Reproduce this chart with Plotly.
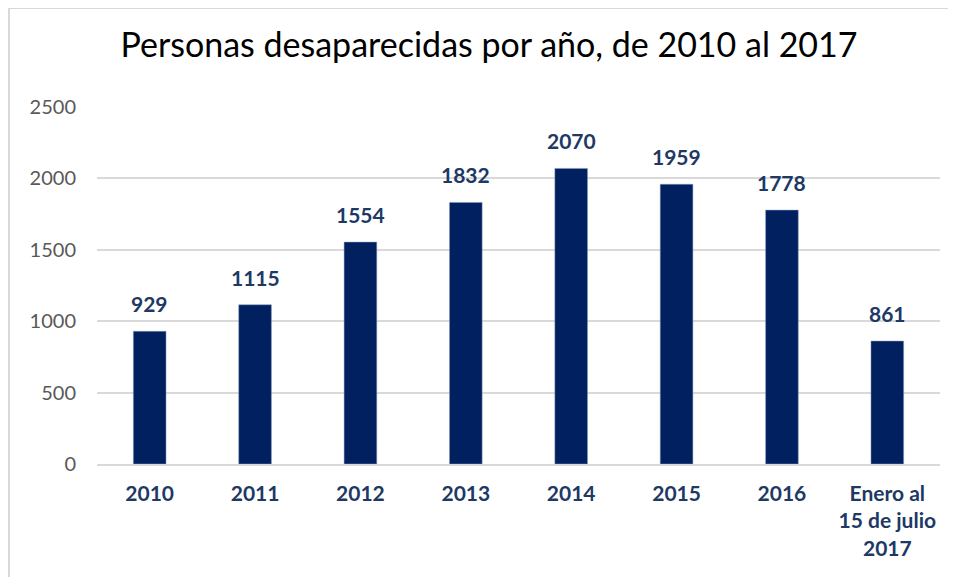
import plotly.graph_objects as go

categories = ["2010", "2011", "2012", "2013", "2014", "2015", "2016", "Enero al<br>15 de julio<br>2017"]
values = [929, 1115, 1554, 1832, 2070, 1959, 1778, 861]
y_ticks = [0, 500, 1000, 1500, 2000, 2500]

# page body has an 8px default margin; work in screen pixels and offset
OFF = 8
SW, SH = 956, 577
W, H = SW - OFF, SH - OFF
# plot area in screen px
PX0, PX1, PY0, PY1 = 97, 940, 107, 464
L, R, T, B = PX0 - OFF, SW - PX1, PY0 - OFF, SH - PY1
pw, ph = W - L - R, H - T - B

def px_x(x):
    return (x - PX0) / pw

def px_y(y):
    return (PY1 - y) / ph

NAVY = "#002060"
LABEL = "#203864"
FONT = "Lato, 'Noto Sans', sans-serif"

fig = go.Figure(go.Bar(
    x=categories, y=values,
    marker=dict(color=NAVY, line=dict(color="#8a9bbd", width=0.5)),
    width=0.31,
))

# annotations on a category axis: use the category index as x
for i, v in enumerate(values):
    fig.add_annotation(x=i, y=v, text=f"<b>{v}</b>", showarrow=False,
                       yanchor="bottom", yshift=13,
                       font=dict(family=FONT, size=21, color=LABEL))

fig.update_layout(
    width=W, height=H,
    margin=dict(l=L, r=R, t=T, b=B),
    paper_bgcolor="white", plot_bgcolor="white",
    title=dict(text="Personas desaparecidas por año, de 2010 al 2017",
               font=dict(family=FONT, size=34, color="#000000"),
               x=px_x(489), xref="paper", xanchor="center",
               y=1 - (45 - OFF) / H, yanchor="middle"),
    showlegend=False,
    xaxis=dict(type="category", range=[-0.5, len(categories) - 0.5],
               showgrid=False, showline=True, linecolor="#d9d9d9", linewidth=1.5,
               tickfont=dict(family=FONT, size=21, color=LABEL, weight="bold"),
               ticks="", ticklabelstandoff=10),
    yaxis=dict(range=[0, 2500], tickvals=y_ticks, showgrid=True, gridcolor="#d9d9d9",
               gridwidth=1.5, zeroline=False, showline=False,
               tickfont=dict(family=FONT, size=20, color="#595959"),
               ticks="", ticklabelstandoff=20),
    shapes=[dict(type="rect", xref="paper", yref="paper",
                 x0=px_x(9), x1=px_x(980), y0=px_y(600), y1=px_y(8),
                 line=dict(color="#d9d9d9", width=2), layer="below")],
)

fig.write_html("out.html")
